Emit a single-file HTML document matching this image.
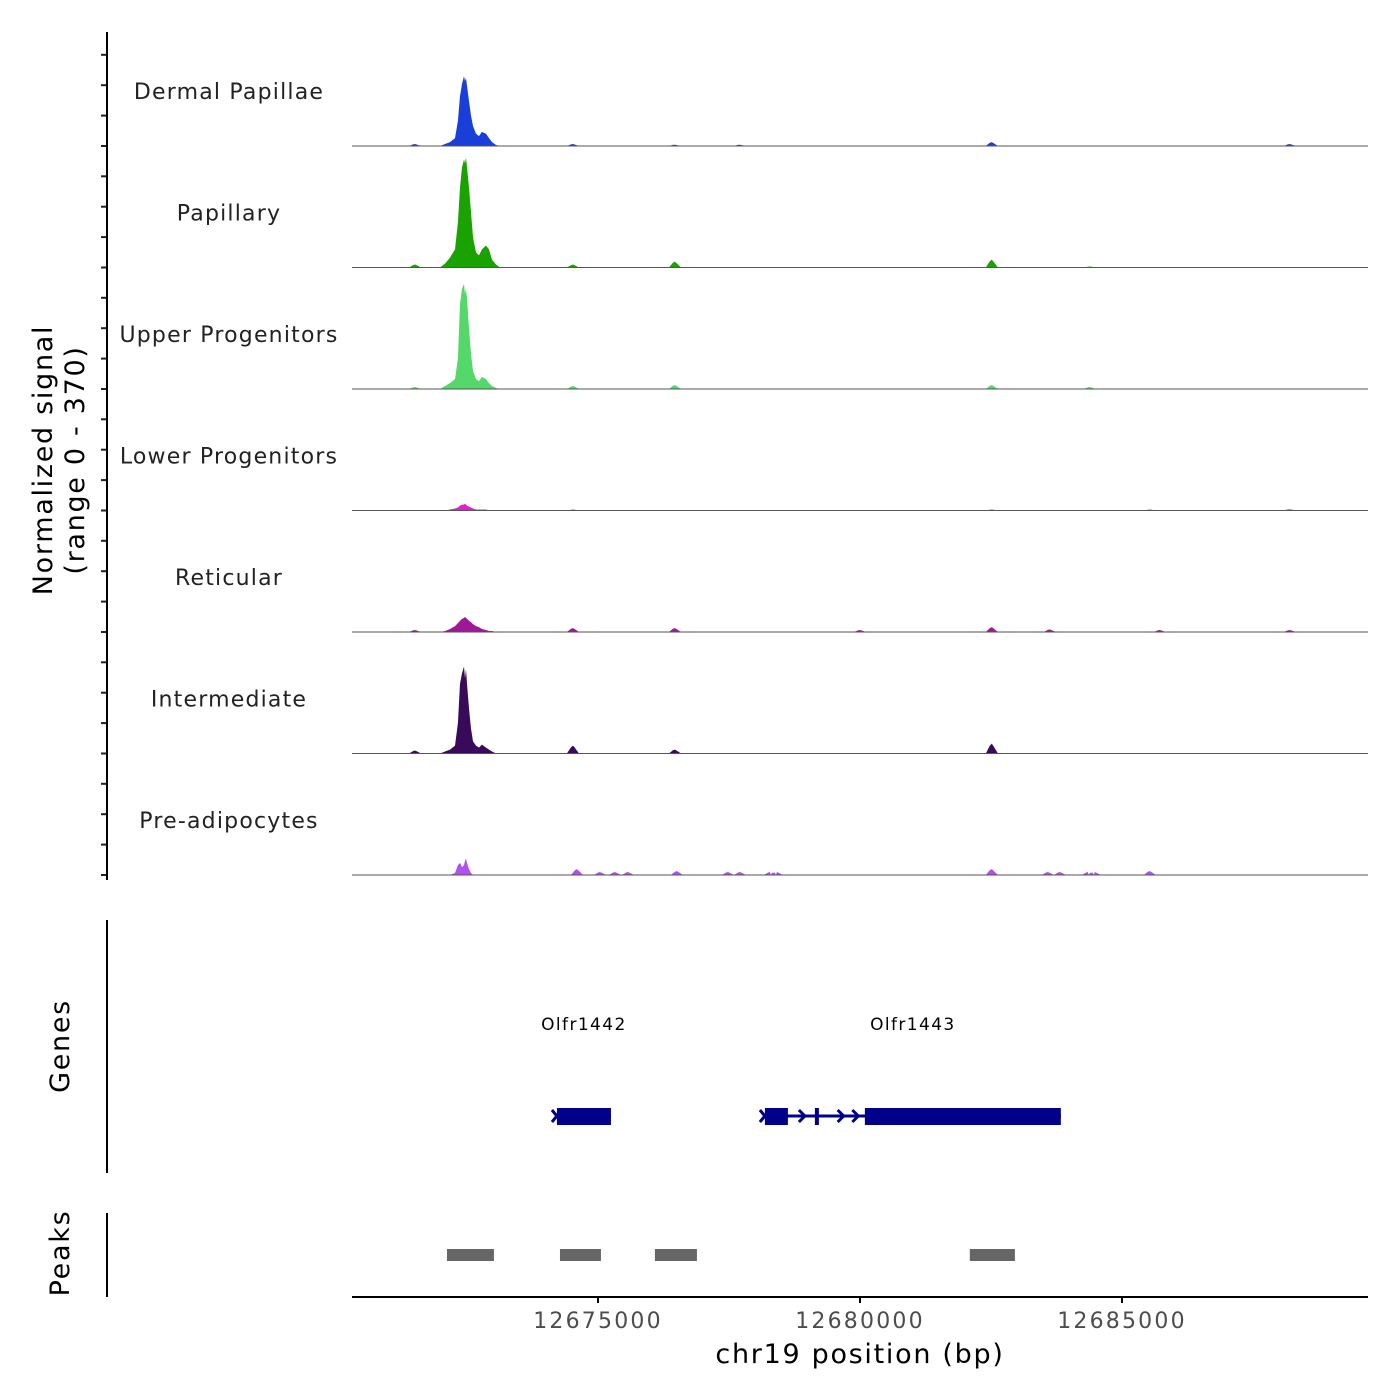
<!DOCTYPE html>
<html><head><meta charset="utf-8"><style>
html,body{margin:0;padding:0;background:#fff;}
svg{display:block;font-family:"DejaVu Sans","Liberation Sans",sans-serif;}
</style></head><body>
<svg id="chart" width="1400" height="1400" viewBox="0 0 1400 1400" xmlns="http://www.w3.org/2000/svg"></svg>
<script>
const trackNames = ["Dermal Papillae","Papillary","Upper Progenitors","Lower Progenitors","Reticular","Intermediate","Pre-adipocytes"];
const trackColors = ["#1a3fd8","#1aa300","#55d86a","#e020d0","#a0189a","#3a0a5a","#b050ee"];
const mainPos = [12671984,12672079,12672175,12672270,12672327,12672366,12672404,12672442,12672461,12672480,12672499,12672537,12672576,12672614,12672671,12672728,12672785,12672862,12672919,12672976,12673053,12673129];
const mainDermal = [0,6,12,24,76,152,189,213,198,207,183,137,92,61,37,30,43,37,24,12,3,0];
const mainPapillary = [0,12,30,55,137,244,305,329,317,335,305,244,168,92,46,37,55,67,55,24,9,0];
const mainUpper = [0,9,18,30,92,259,305,320,290,305,275,183,107,55,30,24,37,30,18,9,3,0];
const mainLower = [0,0,3,6,9,15,18,18,21,18,15,12,9,6,3,3,3,3,0,0,0,0];
const mainReticular = [0,3,9,18,27,34,40,43,46,43,40,34,30,24,18,15,9,6,3,3,0,0];
const mainIntermediate = [0,6,12,24,92,213,244,265,229,256,213,137,76,37,24,18,27,18,12,6,0,0];
const mainPreadip = [0,0,0,6,30,37,24,30,43,49,37,18,6,0,0,0,0,0,0,0,0,0];
const mainSeries = [mainDermal,mainPapillary,mainUpper,mainLower,mainReticular,mainIntermediate,mainPreadip];
const bumpPos = [
 [12671507,12674522,12676468,12677708,12682516,12688202],
 [12671507,12674522,12676468,12682516,12684386],
 [12671507,12674522,12676468,12682516,12684386],
 [12674522,12682516,12685531,12688202],
 [12671507,12674522,12676468,12680000,12682516,12683623,12685722,12688202],
 [12671507,12674522,12676468,12682516],
 [12674598,12675037,12675323,12675571,12676506,12677479,12677708,12678280,12678414,12682516,12683585,12683814,12684348,12684481,12685531]
];
const bumpVal = [
 [6,6,4,4,12,6],
 [9,9,18,24,3],
 [6,9,12,12,6],
 [3,3,3,4],
 [6,12,12,6,15,8,6,6],
 [9,24,12,30],
 [18,9,9,9,12,9,9,9,9,18,9,9,9,9,12]
];
const geneNames = ["Olfr1442","Olfr1443"];
const geneStart = [12674216,12678185];
const geneEnd = [12675247,12683833];
const exonStart = [12674216,12678185,12679139,12680093];
const exonEnd = [12675247,12678624,12679215,12683833];
const peakStart = [12672118,12674274,12676086,12682096];
const peakEnd = [12673014,12675056,12676888,12682956];
const xTicks = [12675000,12680000,12685000];
const yMax = 370;

const NS="http://www.w3.org/2000/svg";
const svg=document.getElementById('chart');
const X0=352,X1=1368,B0=12670305,B1=12689695;
const x=b=>X0+(b-B0)/(B1-B0)*(X1-X0);
const trackH=121.5, firstBase=146;
function el(t,a,p){const e=document.createElementNS(NS,t);for(const k in a)e.setAttribute(k,a[k]);(p||svg).appendChild(e);return e;}

trackNames.forEach((name,i)=>{
  const base=firstBase+i*trackH;
  const y=v=>base-v/yMax*trackH;
  const g=el('g',{});
  
  
  let pts=[];
  mainPos.forEach((p,j)=>pts.push([p,mainSeries[i][j]]));
  bumpPos[i].forEach((p,j)=>{const w=115;pts.push([p-w,0],[p-w/3,bumpVal[i][j]*0.8],[p,bumpVal[i][j]],[p+w/3,bumpVal[i][j]*0.7],[p+w,0]);});
  pts.sort((a,b)=>a[0]-b[0]);
  let d='M'+X0+','+base;
  pts.forEach(q=>{d+=' L'+x(q[0]).toFixed(1)+','+y(q[1]).toFixed(1);});
  d+=' L'+X1+','+base+' Z';
  const a=el('path',{d:d,fill:trackColors[i]},g);
  
  
  const bl=el('line',{x1:X0,x2:X1,y1:base,y2:base,stroke:'#555','stroke-width':1},g);
  
  
  const t=el('text',{x:229,y:base-47,'font-size':22,'letter-spacing':1.2,'text-anchor':'middle',fill:'#222'},g);
  t.textContent=name;
  
  
  for(let k=0;k<4;k++){const ty=base-k*30.4;const tk=el('line',{x1:101,x2:107,y1:ty,y2:ty,stroke:'#222','stroke-width':2},g);
    
    }
});
[[32,880,'signal-y-axis'],[920,1173,'genes-y-axis'],[1213,1297,'peaks-y-axis']].forEach(r=>{
  const l=el('line',{x1:107,x2:107,y1:r[0],y2:r[1],stroke:'#000','stroke-width':2});
  
  
});
const yt=el('text',{transform:'translate(52,460) rotate(-90)','font-size':27,'letter-spacing':1.7,'text-anchor':'middle',fill:'#000'});


const s1=el('tspan',{x:0,dy:0},yt);s1.textContent='Normalized signal';
const s2=el('tspan',{x:0,dy:32},yt);s2.textContent='(range 0 - 370)';
[['Genes',1046,'genes-title'],['Peaks',1253,'peaks-title']].forEach(r=>{
  const t=el('text',{transform:'translate(69,'+r[1]+') rotate(-90)','font-size':27,'letter-spacing':1.7,'text-anchor':'middle',fill:'#000'});
  t.textContent=r[0];
  
  
});
const gc='#00008b';
geneNames.forEach((n,i)=>{
  const ln=el('line',{x1:x(geneStart[i]),x2:x(geneEnd[i]),y1:1116,y2:1116,stroke:gc,'stroke-width':3});
  
  
  const t=el('text',{x:(x(geneStart[i])+x(geneEnd[i]))/2,y:1030,'font-size':17,'letter-spacing':1.4,'text-anchor':'middle',fill:'#000'});
  t.textContent=n;
  
  
  const sx=x(geneStart[i]);
  const ch=el('path',{d:`M${sx-5},${1110} L${sx},1116 L${sx-5},1122`,fill:'none',stroke:gc,'stroke-width':3});
  
  
});
exonStart.forEach((s,i)=>{
  const w=Math.max(4,x(exonEnd[i])-x(s));
  const r=el('rect',{x:x(s),y:1108,width:w,height:17,fill:gc});
  
  
});
[12678910,12679650,12679930].forEach(p=>{
  const c=el('path',{d:`M${x(p)-4},1110 L${x(p)+2},1116 L${x(p)-4},1122`,fill:'none',stroke:gc,'stroke-width':3});
  
  
});
peakStart.forEach((s,i)=>{
  const r=el('rect',{x:x(s),y:1249,width:x(peakEnd[i])-x(s),height:12,fill:'#666'});
  
  
});
const xa=el('line',{x1:X0,x2:X1,y1:1297,y2:1297,stroke:'#000','stroke-width':2});


xTicks.forEach(v=>{
  const tk=el('line',{x1:x(v),x2:x(v),y1:1297,y2:1303,stroke:'#000','stroke-width':2});
  
  
  const t=el('text',{x:x(v),y:1328,'font-size':22,'letter-spacing':2.2,'text-anchor':'middle',fill:'#4d4d4d'});
  t.textContent=v;
  
  
});
const xt=el('text',{x:860,y:1363,'font-size':27,'letter-spacing':1.7,'text-anchor':'middle',fill:'#000'});
xt.textContent='chr19 position (bp)';


</script>
</body></html>
